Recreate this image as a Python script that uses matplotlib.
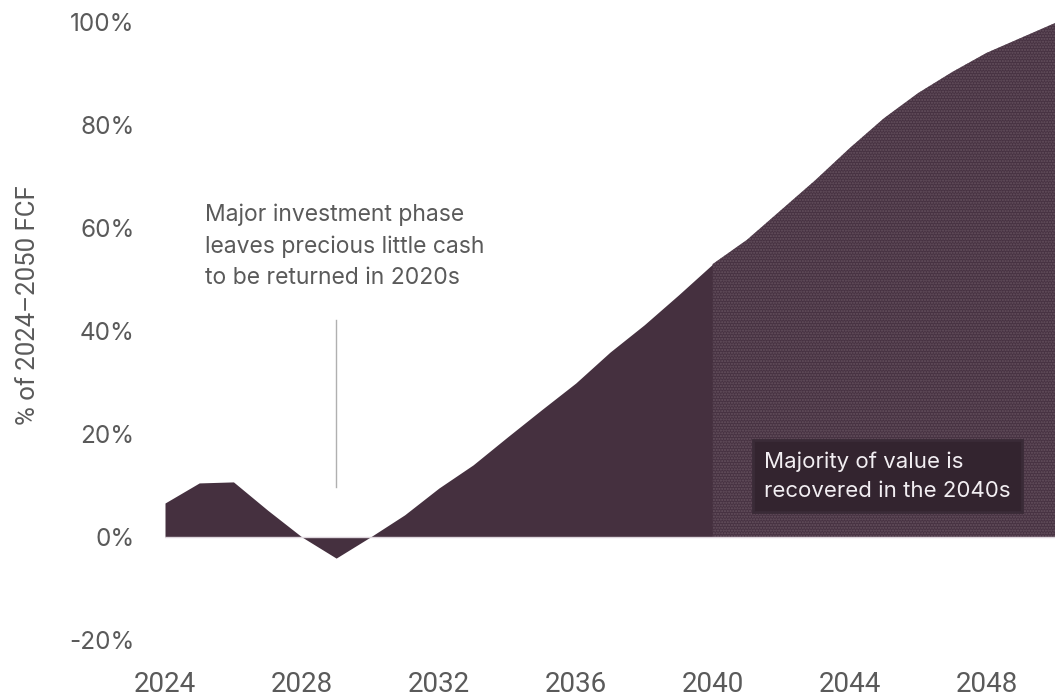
"""
Cumulative free cash flow profile, 2024-2050.
Area chart of cumulative FCF as a share of the 2024-2050 total.
"""

import matplotlib
matplotlib.use('Agg')
import matplotlib.pyplot as plt
import numpy as np

# Cumulative FCF, % of 2024-2050 total
years = list(range(2024, 2051))
cum_fcf_pct = [6.6, 10.5, 10.7, 5.2, 0.0, -4.1, 0.0, 4.3, 9.5, 14.0,
               19.4, 24.7, 29.9, 35.9, 41.2, 47.0, 53.0, 57.7, 63.5, 69.3,
               75.5, 81.3, 86.2, 90.3, 94.0, 96.9, 99.8]

tick_years = [2024, 2028, 2032, 2036, 2040, 2044, 2048]
y_ticks = [-20, 0, 20, 40, 60, 80, 100]

split_year = 2040
note_year = 2029
note_line = (9.7, 42.1)

FILL = '#45303f'
FILL_DOTS = '#473242'
DOT_COLOR = '#66525f'
GREY_TEXT = '#5a5a5a'

plt.rcParams['hatch.linewidth'] = 1.0

fig = plt.figure(figsize=(10.55, 6.96), dpi=100)
ax = fig.add_axes([165 / 1055, 56 / 696, 890 / 1055, 618 / 696])

x = np.array(years, dtype=float)
y = np.array(cum_fcf_pct)

# solid fill up to 2040, dotted texture after
early = x <= split_year
late = x >= split_year
ax.fill_between(x[early], 0, y[early], color=FILL, linewidth=0)
ax.fill_between(x[late], 0, y[late], facecolor=FILL_DOTS, edgecolor=DOT_COLOR,
                hatch='......', linewidth=0)

# zero line
ax.axhline(0, color='#ddd5dc', linewidth=1.0, zorder=3)

# callout for the investment phase
ax.plot([note_year, note_year], note_line, color='#b0b0b0', linewidth=1.0)
ax.text(2025.17, 64.8, 'Major investment phase\nleaves precious little cash\nto be returned in 2020s',
        fontsize=16.5, family=['Inter', 'DejaVu Sans'], color=GREY_TEXT,
        ha='left', va='top', linespacing=1.55)

# label box for the 2040s
ax.text(2041.5, 11.8, 'Majority of value is\nrecovered in the 2040s',
        fontsize=16, family=['Inter', 'DejaVu Sans'], color='#f2eef2',
        ha='left', va='center', linespacing=1.6, zorder=5,
        bbox=dict(boxstyle='square,pad=0.5', facecolor='#33242f',
                  edgecolor='#3a2b37', linewidth=2))

ax.set_xlim(2024, 2050)
ax.set_ylim(-20, 100)
ax.set_xticks(tick_years)
ax.set_xticklabels([str(t) for t in tick_years], family=['Roboto', 'DejaVu Sans'],
                   fontsize=20, color=GREY_TEXT)
ax.set_yticks(y_ticks)
ax.set_yticklabels([f'{v}%' for v in y_ticks], family=['Inter', 'DejaVu Sans'],
                   fontsize=17.5, color=GREY_TEXT)
ax.tick_params(axis='both', length=0)
ax.tick_params(axis='x', pad=22)
ax.tick_params(axis='y', pad=22)

ax.set_ylabel('% of 2024\u20132050 FCF', family=['Roboto', 'DejaVu Sans'],
              fontsize=18.5, color=GREY_TEXT)
ax.yaxis.set_label_coords(-0.14, 0.542)

for side in ['top', 'right', 'left', 'bottom']:
    ax.spines[side].set_visible(False)

fig.savefig('out.png', dpi=100, facecolor='white')
